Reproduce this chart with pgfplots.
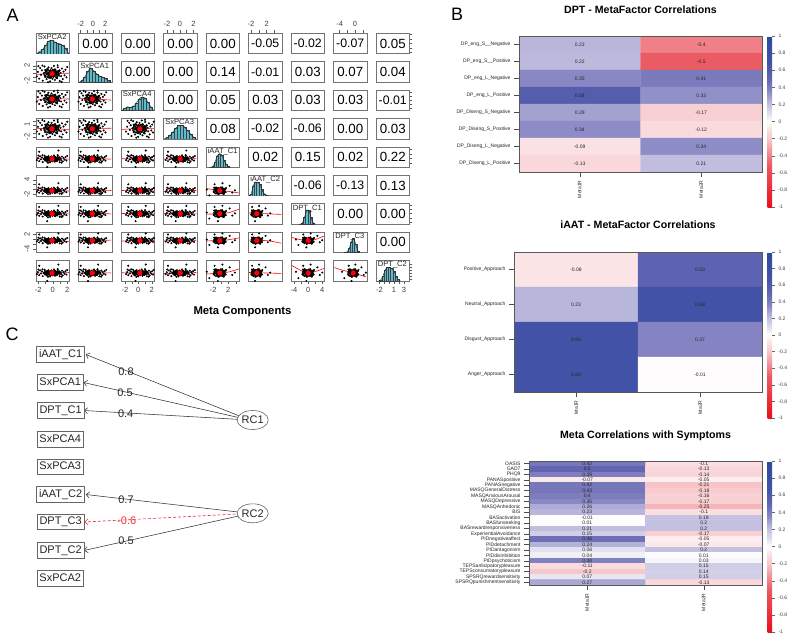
\documentclass[border=0pt]{standalone}
\usepackage{fontspec}
\setmainfont{Liberation Sans}
\usepackage{pgfplots}
\usepackage{pgfplotstable}
\pgfplotsset{compat=1.18}
\usetikzlibrary{arrows.meta,shapes.geometric}

\newcommand\fs[1]{\fontsize{#1}{#1}\selectfont}
\definecolor{histc}{RGB}{86,190,206}
\definecolor{pathred}{RGB}{238,50,60}

% ---------- panel A data ----------
\pgfplotstableread{
u v
-0.88 0.21
-0.80 -0.55
-0.74 0.64
-0.69 -0.12
-0.63 0.38
-0.58 -0.78
-0.52 0.05
-0.47 0.81
-0.43 -0.36
-0.39 0.27
-0.34 -0.61
-0.30 0.52
-0.26 -0.08
-0.22 0.70
-0.19 -0.44
-0.15 0.14
-0.12 -0.86
-0.09 0.41
-0.06 -0.22
-0.03 0.63
0.00 -0.02
0.03 -0.57
0.06 0.30
0.09 -0.31
0.12 0.88
0.15 0.02
0.18 -0.70
0.21 0.47
0.25 -0.15
0.28 0.19
0.32 -0.49
0.36 0.72
0.40 -0.04
0.44 0.35
0.48 -0.82
0.53 0.10
0.57 -0.28
0.62 0.58
0.67 -0.60
0.72 0.24
0.78 -0.18
0.84 0.45
0.90 -0.40
-0.95 -0.30
0.95 0.75
-0.60 0.92
0.35 0.95
-0.25 -0.95
0.60 -0.92
-0.85 0.85
}\cloud

\pgfplotstableread{
u v
-2.0 0.3
1.9 -0.5
0.4 2.1
-0.3 -2.0
1.5 1.4
-1.6 -1.3
2.3 0.1
-0.8 1.8
}\outl

\pgfplotstableread{
u v
0 0
}\one

\pgfplotstableread{
x h
-1.2 0
-1.0 0.15
-0.8 0.32
-0.6 0.6
-0.4 0.92
-0.2 1.0
0.0 0.88
0.2 0.78
0.4 0.72
0.6 0.6
0.8 0.38
1.0 0
}\hA
\pgfplotstableread{
x h
-1.2 0
-1.0 0.12
-0.8 0.4
-0.6 0.8
-0.4 1.0
-0.2 0.82
0.0 0.6
0.2 0.45
0.4 0.38
0.6 0.28
0.8 0.12
1.0 0
}\hB
\pgfplotstableread{
x h
-1.2 0
-1.0 0.15
-0.8 0.28
-0.6 0.22
-0.4 0.32
-0.2 0.55
0.0 0.85
0.2 1.0
0.4 0.92
0.6 0.62
0.8 0.28
1.0 0
}\hC
\pgfplotstableread{
x h
-1.2 0
-1.0 0.1
-0.8 0.25
-0.6 0.5
-0.4 0.8
-0.2 0.98
0.0 1.0
0.2 0.88
0.4 0.62
0.6 0.38
0.8 0.15
1.0 0
}\hD
\pgfplotstableread{
x h
-0.9 0
-0.75 0.08
-0.6 0.4
-0.45 0.85
-0.3 1.0
-0.15 0.92
0.0 0.55
0.15 0.25
0.3 0.08
0.45 0
}\hE
\pgfplotstableread{
x h
-1.2 0
-1.05 0.12
-0.9 0.72
-0.75 1.0
-0.6 0.98
-0.45 0.85
-0.3 0.45
-0.15 0.15
0.0 0.05
0.15 0
}\hF
\pgfplotstableread{
x h
-0.6 0
-0.45 0.08
-0.3 0.5
-0.15 1.0
0.0 1.0
0.15 0.5
0.3 0.1
0.45 0
}\hG
\pgfplotstableread{
x h
-0.45 0
-0.3 0.05
-0.15 0.3
0.0 0.78
0.15 1.05
0.3 0.62
0.45 0.12
0.6 0
}\hH
\pgfplotstableread{
x h
-1.05 0
-0.9 0.08
-0.75 0.35
-0.6 0.8
-0.45 1.0
-0.3 0.98
-0.15 0.92
0.0 0.75
0.15 0.35
0.3 0.1
0.45 0
}\hI

% centre and spread of each variable, in cell units
\newcommand\defvar[3]{\expandafter\def\csname cx#1\endcsname{#2}\expandafter\def\csname sx#1\endcsname{#3}}
\defvar{1}{-0.05}{1.1}
\defvar{2}{-0.2}{1.0}
\defvar{3}{0.15}{1.0}
\defvar{4}{0.0}{1.05}
\defvar{5}{-0.2}{0.45}
\defvar{6}{-0.58}{0.4}
\defvar{7}{0.03}{0.42}
\defvar{8}{0.2}{0.38}
\defvar{9}{-0.25}{0.45}

% ---------- panel B data ----------
\pgfplotstableread{
x y c
0 0 0.23
1 0 -0.4
0 1 0.22
1 1 -0.5
0 2 0.35
1 2 0.41
0 3 0.58
1 3 0.33
0 4 0.29
1 4 -0.17
0 5 0.34
1 5 -0.12
0 6 -0.09
1 6 0.34
0 7 -0.13
1 7 0.21
}\dpt

\pgfplotstableread{
x y c
0 0 -0.08
1 0 0.53
0 1 0.23
1 1 0.69
0 2 0.69
1 2 0.37
0 3 0.69
1 3 -0.01
}\iaat

\pgfplotstableread{
x y c
0 0 0.42
1 0 -0.1
0 1 0.5
1 1 -0.13
0 2 0.39
1 2 -0.14
0 3 -0.07
1 3 -0.05
0 4 0.42
1 4 -0.21
0 5 0.43
1 5 -0.18
0 6 0.4
1 6 -0.16
0 7 0.35
1 7 -0.17
0 8 0.26
1 8 -0.25
0 9 0.23
1 9 -0.1
0 10 -0.01
1 10 0.19
0 11 0.01
1 11 0.2
0 12 0.21
1 12 0.2
0 13 0.15
1 13 -0.17
0 14 0.46
1 14 -0.05
0 15 0.24
1 15 -0.07
0 16 0.08
1 16 0.2
0 17 0.04
1 17 0.01
0 18 0.38
1 18 0.03
0 19 -0.11
1 19 0.15
0 20 -0.2
1 20 0.14
0 21 0.07
1 21 0.15
0 22 0.27
1 22 -0.13
}\sym

\tikzset{
  vb/.style={draw=black!60, line width=0.7pt, font=\fs{11}, text=black!85,
    inner xsep=2.4pt, inner ysep=0pt, minimum height=15.5pt, text height=8pt, text depth=2.2pt},
  rc/.style={ellipse, draw=black!60, line width=0.6pt, minimum width=24.5pt, minimum height=19pt,
    inner sep=0pt, font=\fs{11}, text=black!85, fill=white},
  ld/.style={black!80, line width=0.55pt, -{Straight Barb[length=3.2pt,width=6pt]}},
}

\pgfplotsset{
  colormap={rwb}{rgb255(0pt)=(232,16,26); rgb255(50pt)=(235,91,100); rgb255(60pt)=(240,128,136);
    rgb255(80pt)=(247,200,203); rgb255(90pt)=(250,222,225); rgb255(100pt)=(255,255,255);
    rgb255(108pt)=(228,226,240); rgb255(121pt)=(192,189,223); rgb255(129pt)=(163,161,208);
    rgb255(135pt)=(138,136,196); rgb255(150pt)=(98,102,178); rgb255(169pt)=(66,82,166);
    rgb255(200pt)=(43,75,160)},
  colorbar shift/.style={xshift=5.7pt},
  pa/.style={scale only axis, anchor=south west, width=33.5pt, height=20.5pt,
    axis line style={black!55, line width=0.6pt},
    tick style={black!65, line width=0.45pt}, major tick length=2.8pt, tick align=outside,
    tick label style={font=\fs{7.5}, text=black!75},
    xtick=\empty, ytick=\empty, xmin=-1.15, xmax=1.15},
  pcell/.style 2 args={at={({36pt+(#1-1)*42.5pt},{641pt-33.3pt-(#2-1)*28.4pt-20.5pt})}},
  tkb1/.style={xtick={-1,-0.5,0,0.5,1}, xticklabels={-2,,0,,2}, xtick pos=left},
  tkb3/.style={xtick={-0.87,-0.41,0.04,0.5,0.96}, xticklabels={-2,,0,,2}, xtick pos=left},
  tkb5/.style={xtick={-0.65,-0.13,0.38,0.9}, xticklabels={-2,,2,}, xtick pos=left},
  tkb7/.style={xtick={-0.94,-0.45,0.04,0.52,1.0}, xticklabels={-4,,0,,4}, xtick pos=left},
  tkb9/.style={xtick={-0.92,-0.59,-0.25,0.09,0.43,0.77}, xticklabels={-2,,,1,,3}, xtick pos=left},
  tkt2/.style={xtick={-1.0,-0.58,-0.16,0.26,0.68}, xticklabels={-2,,0,,2}, xtick pos=right},
  tkt4/.style={xtick={-0.92,-0.46,-0.02,0.44,0.9}, xticklabels={-2,,0,,2}, xtick pos=right},
  tkt6/.style={xtick={-0.98,-0.44,0.1,0.64}, xticklabels={-2,,2,}, xtick pos=right},
  tkt8/.style={xtick={-0.73,-0.2,0.33,0.86}, xticklabels={-4,,0,}, xtick pos=right},
  tkl/.style={ytick pos=left, yticklabel style={rotate=90, anchor=south}},
  tkl2/.style={tkl, ytick={-1.0,-0.58,-0.16,0.26,0.68}, yticklabels={-2,,,,2}},
  tkl4/.style={tkl, ytick={-0.92,-0.46,-0.02,0.44,0.9}, yticklabels={-2,,,1,}},
  tkl6/.style={tkl, ytick={-0.98,-0.44,0.1,0.64}, yticklabels={-2,,,4}},
  tkl8/.style={tkl, ytick={-0.73,-0.2,0.33,0.86}, yticklabels={-4,,,2}},
  tkr1/.style={ytick={-1,-0.5,0,0.5,1}, yticklabels={,,,,,}, ytick pos=right},
  tkr3/.style={ytick={-0.87,-0.41,0.04,0.5,0.96}, yticklabels={,,,,,}, ytick pos=right},
  tkr5/.style={ytick={-0.65,-0.13,0.38,0.9}, yticklabels={,,,,,}, ytick pos=right},
  tkr7/.style={ytick={-0.94,-0.45,0.04,0.52,1.0}, yticklabels={,,,,,}, ytick pos=right},
  tkr9h/.style={ytick={0.15,0.365,0.587,0.809,1.03,1.252}, yticklabels={,,,,,,}, ytick pos=right},
  hm/.style={scale only axis, anchor=south west, xmin=-0.5, xmax=1.5, y dir=reverse,
    xtick={0,1}, enlargelimits=false, axis on top, tick align=outside, tick pos=left,
    major tick length=5pt, tick style={black!70, line width=0.45pt},
    tick label style={font=\fs{5}, text=black!85},
    xticklabel style={rotate=90, anchor=east},
    axis line style={black!65, line width=0.7pt},
    colormap name=rwb, point meta min=-1, point meta max=1,
    colorbar, colorbar style={at={(parent axis.north east)}, anchor=north west,
      width=4.3pt, scale only axis,
      ytick={-1,-0.8,-0.6,-0.4,-0.2,0,0.2,0.4,0.6,0.8,1},
      yticklabels={-1,-0.8,-0.6,-0.4,-0.2,0,0.2,0.4,0.6,0.8,1},
      ytick pos=right, tick align=outside, major tick length=3pt,
      tick style={black!60, line width=0.4pt},
      tick label style={font=\fs{5}, text=black!75}, axis line style={draw=none}},
    title style={font=\bfseries\fs{10.6}, at={(0.5,1)}, anchor=base}},
  hmlab/.style={draw=none, nodes near coords, point meta=explicit symbolic,
    every node near coord/.append style={anchor=center, font=\fs{5}, text=black!85, inner sep=0pt}},
}

% scatter cell: [opts]{col}{row}{five smoother offsets}
\newcommand\scat[8][]{%
\begin{axis}[pa, pcell={#2}{#3}, ymin=-1.15, ymax=1.15, #1]
\addplot[only marks, mark=*, mark size=0.8pt, black] table[
  x expr={\csname cx#2\endcsname+\csname sx#2\endcsname*\thisrow{u}},
  y expr={\csname cx#3\endcsname+\csname sx#3\endcsname*\thisrow{v}}] {\cloud};
\addplot[only marks, mark=*, mark size=0.8pt, black] table[
  x expr={\csname cx#2\endcsname+0.5*\csname sx#2\endcsname*\thisrow{u}},
  y expr={\csname cx#3\endcsname+0.5*\csname sx#3\endcsname*\thisrow{v}}] {\cloud};
\addplot[only marks, mark=*, mark size=0.8pt, black] table[
  x expr={\csname cx#2\endcsname+\csname sx#2\endcsname*\thisrow{u}},
  y expr={\csname cx#3\endcsname+\csname sx#3\endcsname*\thisrow{v}}] {\outl};
\addplot[red, line width=0.6pt, smooth] table[row sep=\\, x=u,
  y expr={\csname cx#3\endcsname+\thisrow{v}}]
  {u v\\ -1.1 #4\\ -0.5 #5\\ 0 #6\\ 0.5 #7\\ 1.1 #8\\};
\addplot[only marks, mark=*, mark size=2.4pt, red] table[
  x expr={\csname cx#2\endcsname}, y expr={\csname cx#3\endcsname}] {\one};
\end{axis}}

% histogram cell: [opts]{k}{table}{bin width}{label}
\newcommand\hist[5][]{%
\begin{axis}[pa, pcell={#2}{#2}, ymin=0, ymax=1.5, #1]
\addplot[ybar interval, fill=histc, draw=black!75, line width=0.3pt] table[x=x, y=h] {#3};
\addplot[black!85, line width=0.45pt, smooth] table[x expr={\thisrow{x}+0.5*#4}, y=h] {#3};
\node[anchor=north west, inner sep=0.6pt, font=\fs{7.6}, text=black!85] at (rel axis cs:0.03,0.99) {#5};
\end{axis}}

% correlation cell: [opts]{col}{row}{size}{text}
\newcommand\corr[5][]{%
\begin{axis}[pa, pcell={#2}{#3}, ymin=-1.15, ymax=1.15, #1]
\node[font=\fs{#4}, inner sep=0pt] at (axis cs:0,0) {#5};
\end{axis}}

\begin{document}
\begin{tikzpicture}
\useasboundingbox (0,0) rectangle (800pt,641pt);
\fill[white] (0,0) rectangle (800pt,641pt);

% ================= panel A =================
% row 1
\hist{1}{\hA}{0.2}{SxPCA2}
\corr[tkt2]{2}{1}{13.3}{0.00}
\corr{3}{1}{13.3}{0.00}
\corr[tkt4]{4}{1}{13.3}{0.00}
\corr{5}{1}{13.3}{0.00}
\corr[tkt6]{6}{1}{12.3}{-0.05}
\corr{7}{1}{12.3}{-0.02}
\corr[tkt8]{8}{1}{12.3}{-0.07}
\corr[tkr1]{9}{1}{13.3}{0.05}
% row 2
\scat[tkl2]{1}{2}{-0.08}{-0.02}{0}{0.03}{0.06}
\hist{2}{\hB}{0.2}{SxPCA1}
\corr{3}{2}{13.3}{0.00}
\corr{4}{2}{13.3}{0.00}
\corr{5}{2}{13.3}{0.14}
\corr{6}{2}{12.3}{-0.01}
\corr{7}{2}{13.3}{0.03}
\corr{8}{2}{13.3}{0.07}
\corr{9}{2}{13.3}{0.04}
% row 3
\scat{1}{3}{-0.15}{0.02}{0.03}{0.02}{0.0}
\scat{2}{3}{0.05}{0.02}{0}{-0.06}{-0.12}
\hist{3}{\hC}{0.2}{SxPCA4}
\corr{4}{3}{13.3}{0.00}
\corr{5}{3}{13.3}{0.05}
\corr{6}{3}{13.3}{0.03}
\corr{7}{3}{13.3}{0.03}
\corr{8}{3}{13.3}{0.03}
\corr[tkr3]{9}{3}{12.3}{-0.01}
% row 4
\scat[tkl4]{1}{4}{0.05}{0.0}{-0.02}{-0.04}{-0.08}
\scat{2}{4}{-0.06}{0}{0.02}{0.04}{0.06}
\scat{3}{4}{-0.08}{-0.02}{0.02}{0.03}{0.05}
\hist{4}{\hD}{0.2}{SxPCA3}
\corr{5}{4}{13.3}{0.08}
\corr{6}{4}{12.3}{-0.02}
\corr{7}{4}{12.3}{-0.06}
\corr{8}{4}{13.3}{0.00}
\corr{9}{4}{13.3}{0.03}
% row 5
\scat{1}{5}{0.03}{-0.01}{0}{0.02}{-0.03}
\scat{2}{5}{0.03}{-0.01}{0}{0.02}{-0.03}
\scat{3}{5}{0.03}{-0.01}{0}{0.02}{-0.03}
\scat{4}{5}{-0.04}{0}{0.01}{0.02}{0.03}
\hist{5}{\hE}{0.15}{iAAT\_C1}
\corr{6}{5}{13.3}{0.02}
\corr{7}{5}{13.3}{0.15}
\corr{8}{5}{13.3}{0.02}
\corr[tkr5]{9}{5}{13.3}{0.22}
% row 6
\scat[tkl6]{1}{6}{0.03}{-0.01}{0}{0.02}{-0.03}
\scat{2}{6}{0.02}{0}{0}{0.01}{0.02}
\scat{3}{6}{0.03}{-0.01}{0}{0.02}{-0.03}
\scat{4}{6}{-0.1}{-0.02}{0}{0.02}{0.03}
\scat{5}{6}{0.25}{0.08}{0}{-0.1}{-0.25}
\hist{6}{\hF}{0.15}{iAAT\_C2}
\corr{7}{6}{12.3}{-0.06}
\corr{8}{6}{12.3}{-0.13}
\corr{9}{6}{13.3}{0.13}
% row 7
\scat{1}{7}{0.03}{-0.01}{0}{0.02}{-0.03}
\scat{2}{7}{0.03}{-0.01}{0}{0.02}{-0.03}
\scat{3}{7}{0.03}{-0.01}{0}{0.02}{-0.03}
\scat{4}{7}{0.03}{-0.01}{0}{0.02}{-0.03}
\scat{5}{7}{-0.05}{-0.02}{0}{0.15}{0.5}
\scat{6}{7}{0.08}{0.02}{0}{-0.04}{-0.08}
\hist{7}{\hG}{0.15}{DPT\_C1}
\corr{8}{7}{13.3}{0.00}
\corr[tkr7]{9}{7}{13.3}{0.00}
% row 8
\scat[tkl8]{1}{8}{0.08}{0.02}{0}{-0.03}{-0.1}
\scat{2}{8}{-0.02}{0}{0}{0.02}{0.05}
\scat{3}{8}{-0.06}{0}{0.03}{0.03}{0.0}
\scat{4}{8}{-0.05}{0}{0.02}{0.02}{0.04}
\scat{5}{8}{-0.05}{0}{0}{0.12}{0.3}
\scat{6}{8}{0.05}{0.02}{0}{-0.1}{-0.3}
\scat{7}{8}{0.35}{0.1}{-0.05}{0.1}{0.5}
\hist{8}{\hH}{0.15}{DPT\_C3}
\corr{9}{8}{13.3}{0.00}
% row 9
\scat[tkb1]{1}{9}{-0.03}{0}{0.01}{0.02}{0.05}
\scat{2}{9}{0}{0}{0.01}{0.01}{0.02}
\scat[tkb3]{3}{9}{0.03}{-0.01}{0}{0.02}{-0.03}
\scat{4}{9}{-0.06}{-0.02}{0.0}{0.03}{0.05}
\scat[tkb5]{5}{9}{-0.12}{-0.05}{0}{0.15}{0.45}
\scat{6}{9}{0.05}{0.02}{0}{-0.02}{-0.05}
\scat[tkb7]{7}{9}{0.85}{0.3}{-0.05}{0.15}{0.5}
\scat{8}{9}{0.6}{0.3}{0.1}{-0.15}{-0.45}
\hist[tkb9, tkr9h]{9}{\hI}{0.15}{DPT\_C2}

\node[font=\bfseries\fs{11.3}, anchor=base, inner sep=0pt] at (242.5pt,327pt) {Meta Components};
\node[font=\fs{18}, anchor=base west, inner sep=0pt] at (6.5pt,619pt) {A};
\node[font=\fs{18}, anchor=base west, inner sep=0pt] at (451pt,620.3pt) {B};
\node[font=\fs{18}, anchor=base west, inner sep=0pt] at (5.5pt,300.3pt) {C};

% ================= panel B =================
\begin{axis}[hm, at={(519pt,469pt)}, width=243pt, height=136pt,
  ymin=-0.5, ymax=7.5, ytick={0,...,7},
  yticklabels={DP\_eng\_S\_\_Negative, DP\_eng\_S\_\_Positive, DP\_eng\_L\_Negative,
    DP\_eng\_L\_Positive, DP\_Diseng\_S\_Negative, DP\_Diseng\_S\_Positive,
    DP\_Diseng\_L\_Negative, DP\_Diseng\_L\_Positive},
  xticklabels={Meta1R, Meta2R},
  title={DPT - MetaFactor Correlations}, title style={yshift=17pt},
  colorbar style={height=171pt}]
\addplot[matrix plot*, mesh/cols=2, point meta=explicit] table[x=x, y=y, meta=c] {\dpt};
\addplot[hmlab] table[x=x, y=y, meta=c] {\dpt};
\end{axis}

\begin{axis}[hm, at={(514pt,249pt)}, width=248pt, height=140pt,
  ymin=-0.5, ymax=3.5, ytick={0,...,3},
  yticklabels={Positive\_Approach, Neutral\_Approach, Disgust\_Approach, Anger\_Approach},
  xticklabels={leta1R, leta2R},
  title={iAAT - MetaFactor Correlations}, title style={yshift=18pt},
  colorbar style={height=166pt}]
\addplot[matrix plot*, mesh/cols=2, point meta=explicit] table[x=x, y=y, meta=c] {\iaat};
\addplot[hmlab] table[x=x, y=y, meta=c] {\iaat};
\end{axis}

\begin{axis}[hm, at={(529pt,56pt)}, width=233pt, height=124pt,
  ymin=-0.5, ymax=22.5, ytick={0,...,22},
  yticklabels={OASIS, GAD7, PHQ9, PANASpositive, PANASnegative, MASQGeneralDistress,
    MASQAnxiousArousal, MASQDepressive, MASQAnhedonic, BIS, BASactivation, BASfunseeking,
    BASrewardresponsiveness, ExperientialAvoidance, PIDnegativeaffect, PIDdetachment,
    PIDantagonism, PIDdisinhibition, PIDpsychoticism, TEPSanticipatorypleasure,
    TEPSconsumatorypleasure, SPSRQrewardsensitivity, SPSRQpunishmentsensitivity},
  xticklabels={Meta1R, Meta2R},
  title={Meta Correlations with Symptoms}, title style={yshift=17pt},
  colorbar style={height=171pt}]
\addplot[matrix plot*, mesh/cols=2, point meta=explicit] table[x=x, y=y, meta=c] {\sym};
\addplot[hmlab] table[x=x, y=y, meta=c] {\sym};
\end{axis}

% ================= panel C =================
\begin{axis}[at={(0pt,0pt)}, anchor=south west, scale only axis, width=420pt, height=321pt,
  xmin=0, xmax=420, ymin=320, ymax=641, y dir=reverse, hide axis, clip=false]
\addplot[ld] coordinates {(240.7,416.5) (85.8,354.5)};
\addplot[ld] coordinates {(240.7,418) (83.6,382.5)};
\addplot[ld] coordinates {(240.7,419.5) (84.0,410.5)};
\addplot[ld] coordinates {(240.7,512.3) (85.8,494.5)};
\addplot[pathred, line width=0.6pt, dash pattern=on 3pt off 2pt,
  -{Straight Barb[length=3.2pt,width=6pt]}] coordinates {(240.7,513.8) (84.4,522)};
\addplot[ld] coordinates {(240.7,515.5) (84.0,550.5)};
\node[vb] at (axis cs:60.6,354.5) {iAAT\_C1};
\node[vb] at (axis cs:60.2,382.5) {SxPCA1};
\node[vb] at (axis cs:60.6,410.5) {DPT\_C1};
\node[vb] at (axis cs:60.2,439.3) {SxPCA4};
\node[vb] at (axis cs:60.2,466.8) {SxPCA3};
\node[vb] at (axis cs:60.6,494.5) {iAAT\_C2};
\node[vb] at (axis cs:60.6,522) {DPT\_C3};
\node[vb] at (axis cs:60.6,550.5) {DPT\_C2};
\node[vb] at (axis cs:60.2,578.5) {SxPCA2};
\node[rc] at (axis cs:252.7,420) {RC1};
\node[rc] at (axis cs:252.7,513.3) {RC2};
\node[font=\fs{11}, text=black!85] at (axis cs:126,371.7) {0.8};
\node[font=\fs{11}, text=black!85] at (axis cs:125,392.7) {0.5};
\node[font=\fs{11}, text=black!85] at (axis cs:125.7,413.3) {0.4};
\node[font=\fs{11}, text=black!85] at (axis cs:126,500) {0.7};
\node[font=\fs{11}, text=pathred] at (axis cs:126.7,521) {-0.6};
\node[font=\fs{11}, text=black!85] at (axis cs:126,541) {0.5};
\end{axis}
\end{tikzpicture}
\end{document}
